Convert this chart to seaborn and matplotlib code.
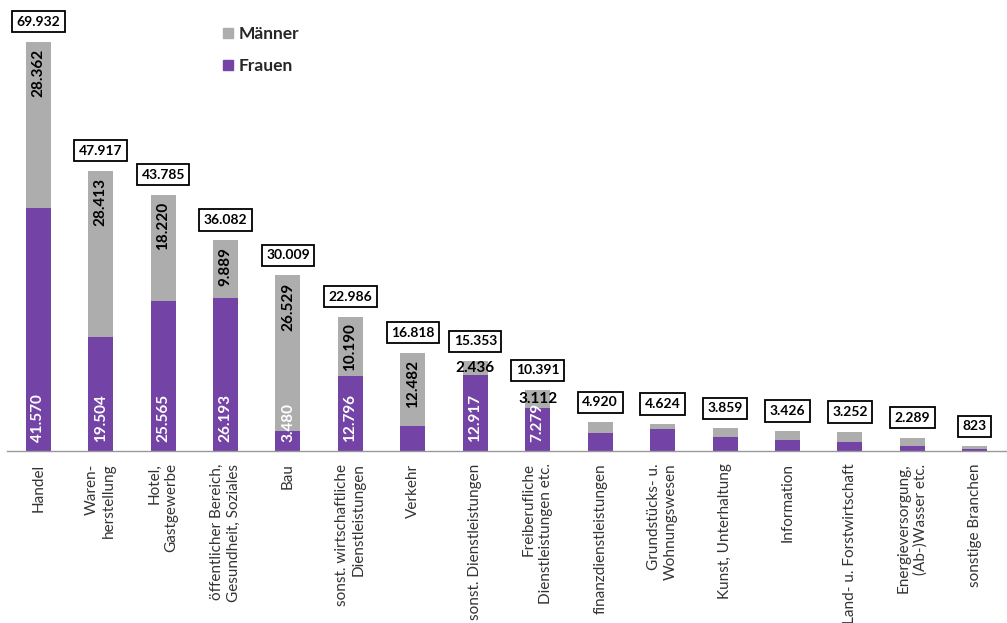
import matplotlib
matplotlib.use("Agg")
import matplotlib.pyplot as plt
from matplotlib.lines import Line2D
from matplotlib.ticker import FixedLocator
import numpy as np
import pandas as pd
import seaborn as sns

# Beschäftigte nach Branche und Geschlecht
branchen = [
    "Handel", "Waren-\nherstellung", "Hotel,\nGastgewerbe",
    "öffentlicher Bereich,\nGesundheit, Soziales", "Bau",
    "sonst. wirtschaftliche\nDienstleistungen", "Verkehr",
    "sonst. Dienstleistungen", "Freiberufliche\nDienstleistungen etc.",
    "finanzdienstleistungen", "Grundstücks- u.\nWohnungswesen",
    "Kunst, Unterhaltung", "Information", "Land- u. Forstwirtschaft",
    "Energieversorgung,\n(Ab-)Wasser etc.", "sonstige Branchen",
]
frauen = [41570, 19504, 25565, 26193, 3480, 12796, 4336, 12917, 7279,
          3100, 3700, 2350, 1900, 1500, 850, 350]
maenner = [28362, 28413, 18220, 9889, 26529, 10190, 12482, 2436, 3112,
           1820, 924, 1509, 1526, 1752, 1439, 473]
# Beschriftung der Segmente: "v" senkrecht, "h" waagrecht, "" ohne
maenner_beschriftung = ["v", "v", "v", "v", "v", "v", "v", "h", "h",
                        "", "", "", "", "", "", ""]
frauen_beschriftung = [True, True, True, True, True, True, False, True, True,
                       False, False, False, False, False, False, False]

GRAU = "#ADADAD"
LILA = "#7443A6"

df = pd.DataFrame({"branche": branchen, "frauen": frauen, "maenner": maenner})
df["gesamt"] = df["frauen"] + df["maenner"]

sns.set_style("white")
plt.rcParams["font.family"] = ["Lato", "DejaVu Sans"]

fig = plt.figure(figsize=(10.07, 6.23), dpi=100)
ax = fig.add_axes([7 / 1007, 172 / 623, 999 / 1007, 451 / 623])

sns.barplot(data=df, x="branche", y="gesamt", color=GRAU, width=0.4,
            saturation=1, errorbar=None, linewidth=0, ax=ax)
sns.barplot(data=df, x="branche", y="frauen", color=LILA, width=0.4,
            saturation=1, errorbar=None, linewidth=0, ax=ax)

ax.set_xlim(-0.5, len(branchen) - 0.5)
ax.set_ylim(0, 451 / 5.85 * 1000)
ax.set_xlabel("")
ax.set_ylabel("")
ax.set_yticks([])

for side in ("left", "right", "top"):
    ax.spines[side].set_visible(False)
ax.spines["bottom"].set_color("#999999")
ax.spines["bottom"].set_linewidth(1.0)

ax.set_xticks(range(len(branchen)))
ax.set_xticklabels(branchen, rotation=90, ha="center", va="top",
                   multialignment="right", fontsize=11, color="#333333",
                   linespacing=1.3)
ax.tick_params(axis="x", which="major", length=0, pad=9)
ax.xaxis.set_minor_locator(FixedLocator(np.arange(-0.5, len(branchen), 1.0)))
ax.tick_params(axis="x", which="minor", length=4, color="#999999", width=0.8,
               direction="out")


def fmt(v):
    return f"{v:,}".replace(",", ".")


for i, row in df.iterrows():
    # Summe im Kasten über dem Balken
    ax.annotate(fmt(row["gesamt"]), xy=(i, row["gesamt"]), xytext=(0, 14),
                textcoords="offset pixels", ha="center", va="bottom",
                fontsize=10, fontweight="bold", color="black",
                bbox=dict(boxstyle="square,pad=0.33", fc="white",
                          ec="black", lw=1.3))
    art = maenner_beschriftung[i]
    if art == "v":
        ax.annotate(fmt(row["maenner"]), xy=(i, row["gesamt"]),
                    xytext=(0, -7), textcoords="offset pixels",
                    ha="center", va="top", rotation=90, fontsize=11,
                    fontweight="bold", color="black")
    elif art == "h":
        ax.annotate(fmt(row["maenner"]),
                    xy=(i, row["frauen"] + row["maenner"] / 2),
                    ha="center", va="center", fontsize=11,
                    fontweight="bold", color="black")
    if frauen_beschriftung[i]:
        ax.annotate(fmt(row["frauen"]), xy=(i, 0), xytext=(0, 9),
                    textcoords="offset pixels", ha="center", va="bottom",
                    rotation=90, fontsize=11, fontweight="bold",
                    color="white")

handles = [
    Line2D([], [], marker="s", linestyle="", markersize=7,
           markerfacecolor=GRAU, markeredgecolor=GRAU, label="Männer"),
    Line2D([], [], marker="s", linestyle="", markersize=7,
           markerfacecolor=LILA, markeredgecolor=LILA, label="Frauen"),
]
fig.legend(handles=handles, loc="upper left",
           bbox_to_anchor=(207 / 1007, 1 - 10 / 623), frameon=False,
           prop=dict(weight="bold", size=12.5), handlelength=0.6,
           handletextpad=0.3, labelspacing=0.95)

fig.savefig("out.png", dpi=100)
